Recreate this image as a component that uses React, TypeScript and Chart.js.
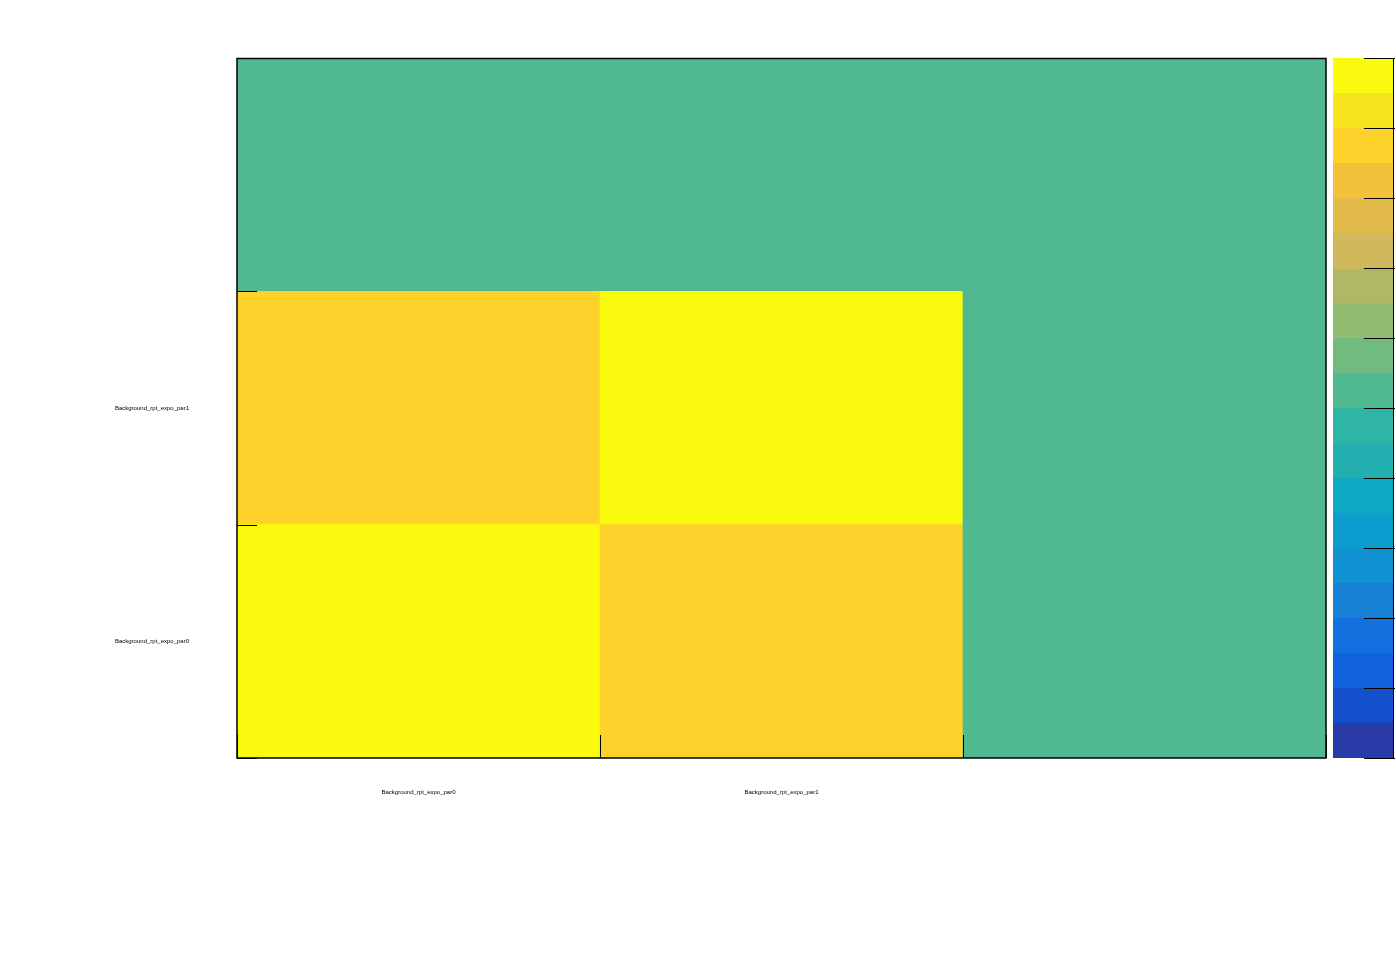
import React, { useEffect, useRef } from "react";
import { Chart, registerables } from "chart.js";

Chart.register(...registerables);

// Parameter names (bins from left to right / bottom to top)
const xLabels = ["Background_rpt_expo_par0", "Background_rpt_expo_par1", ""];
const yLabels = ["Background_rpt_expo_par0", "Background_rpt_expo_par1", ""];

// Correlation values, one array per y bin (bottom to top), one entry per x bin
const rowPar0 = [1.0, 0.75, 0.0];
const rowPar1 = [0.75, 1.0, 0.0];
const rowEmpty = [0.0, 0.0, 0.0];
const rows = [rowPar0, rowPar1, rowEmpty];

// Colour scale range and its 20 contour colours (bottom to top)
const zMin = -1;
const zMax = 1;
const palette = [
  "#283ba6", "#1550cc", "#0f61dd", "#1271de", "#1580d6",
  "#0f91d2", "#0a9dce", "#0fa8c2", "#23afb0", "#2eb5a3",
  "#51b990", "#72bb7e", "#93bc72", "#b0b866", "#d2b85c",
  "#e3bb4a", "#f4c13d", "#fcd22b", "#f8e41e", "#f9fa0d",
];
const colorbarTicks = [-1, -0.8, -0.6, -0.4, -0.2, 0, 0.2, 0.4, 0.6, 0.8, 1];

function colorFor(v: number): string {
  const n = palette.length;
  let idx = Math.floor(((v - zMin) / (zMax - zMin)) * n);
  if (idx < 0) idx = 0;
  if (idx > n - 1) idx = n - 1;
  return palette[idx];
}

const decorPlugin = {
  id: "decor",
  afterDatasetsDraw(chart: any) {
    const ctx = chart.ctx as CanvasRenderingContext2D;
    const { left, right, top, bottom } = chart.chartArea;
    const xs = chart.scales.x;
    const ys = chart.scales.y;
    ctx.save();
    ctx.strokeStyle = "#000";
    ctx.lineWidth = 1;
    // y ticks at bin boundaries
    for (let i = 0; i <= yLabels.length; i++) {
      const py = Math.round(ys.getPixelForValue(i)) + 0.5;
      ctx.beginPath();
      ctx.moveTo(left, py);
      ctx.lineTo(left + 20, py);
      ctx.stroke();
    }
    // x ticks at bin boundaries
    for (let i = 0; i <= xLabels.length; i++) {
      const px = Math.round(xs.getPixelForValue(i - 0.5)) + 0.5;
      ctx.beginPath();
      ctx.moveTo(px, bottom);
      ctx.lineTo(px, bottom - 23);
      ctx.stroke();
    }
    // frame
    ctx.lineWidth = 1.5;
    ctx.strokeRect(left, top + 0.5, right - left, bottom - top - 0.5);

    // colour bar
    const cbLeft = right + 7;
    const cbRight = right + 68;
    const h = bottom - top;
    const zToPx = (z: number) => bottom - ((z - zMin) / (zMax - zMin)) * h;
    const n = palette.length;
    for (let k = 0; k < n; k++) {
      const z0 = zMin + (k * (zMax - zMin)) / n;
      const z1 = zMin + ((k + 1) * (zMax - zMin)) / n;
      const y0 = zToPx(z0);
      const y1 = zToPx(z1);
      ctx.fillStyle = palette[k];
      ctx.fillRect(cbLeft, Math.floor(y1), cbRight - cbLeft, Math.ceil(y0) - Math.floor(y1));
    }
    ctx.lineWidth = 1;
    ctx.beginPath();
    ctx.moveTo(cbRight - 0.5, top);
    ctx.lineTo(cbRight - 0.5, bottom);
    ctx.stroke();
    for (const z of colorbarTicks) {
      const py = Math.round(zToPx(z)) + 0.5;
      ctx.beginPath();
      ctx.moveTo(cbRight - 30, py);
      ctx.lineTo(cbRight + 1, py);
      ctx.stroke();
    }
    ctx.restore();
  },
};

export default function App() {
  const ref = useRef<HTMLCanvasElement | null>(null);

  useEffect(() => {
    if (!ref.current) return;
    const datasets = rows.map((row, r) => ({
      label: yLabels[r] || "empty",
      data: row.map(() => [r, r + 1]),
      backgroundColor: row.map((v) => colorFor(v)),
      borderWidth: 0,
      barPercentage: 1,
      categoryPercentage: 1,
      grouped: false,
    }));
    const chart = new Chart(ref.current, {
      type: "bar",
      data: { labels: xLabels, datasets: datasets as any },
      options: {
        animation: false,
        responsive: false,
        maintainAspectRatio: false,
        layout: { padding: { left: 0, top: 58, right: 70, bottom: 0 } },
        plugins: { legend: { display: false }, tooltip: { enabled: false } },
        scales: {
          x: {
            type: "category",
            grid: { display: false, drawTicks: false },
            border: { display: false },
            ticks: {
              color: "#000",
              font: { family: "'Liberation Sans', Arial, sans-serif", size: 6 },
              padding: 31,
              maxRotation: 0,
              autoSkip: false,
            },
            afterFit: (s: any) => {
              s.height = 214;
            },
          },
          y: {
            type: "linear",
            min: 0,
            max: 3,
            grid: { display: false, drawTicks: false },
            border: { display: false },
            afterBuildTicks: (s: any) => {
              s.ticks = yLabels
                .map((l, i) => ({ value: i + 0.5, l }))
                .filter((t) => t.l !== "")
                .map((t) => ({ value: t.value }));
            },
            ticks: {
              color: "#000",
              font: { family: "'Liberation Sans', Arial, sans-serif", size: 6 },
              padding: 48,
              autoSkip: false,
              callback: (v: any) => yLabels[Math.floor(Number(v))],
            },
            afterFit: (s: any) => {
              s.width = 237;
            },
          },
        },
      },
      plugins: [decorPlugin],
    });
    return () => chart.destroy();
  }, []);

  return (
    <div style={{ position: "fixed", left: 0, top: 0, width: 1396, height: 972, background: "#fff" }}>
      <canvas ref={ref} width={1396} height={972} style={{ width: 1396, height: 972, display: "block" }} />
    </div>
  );
}
